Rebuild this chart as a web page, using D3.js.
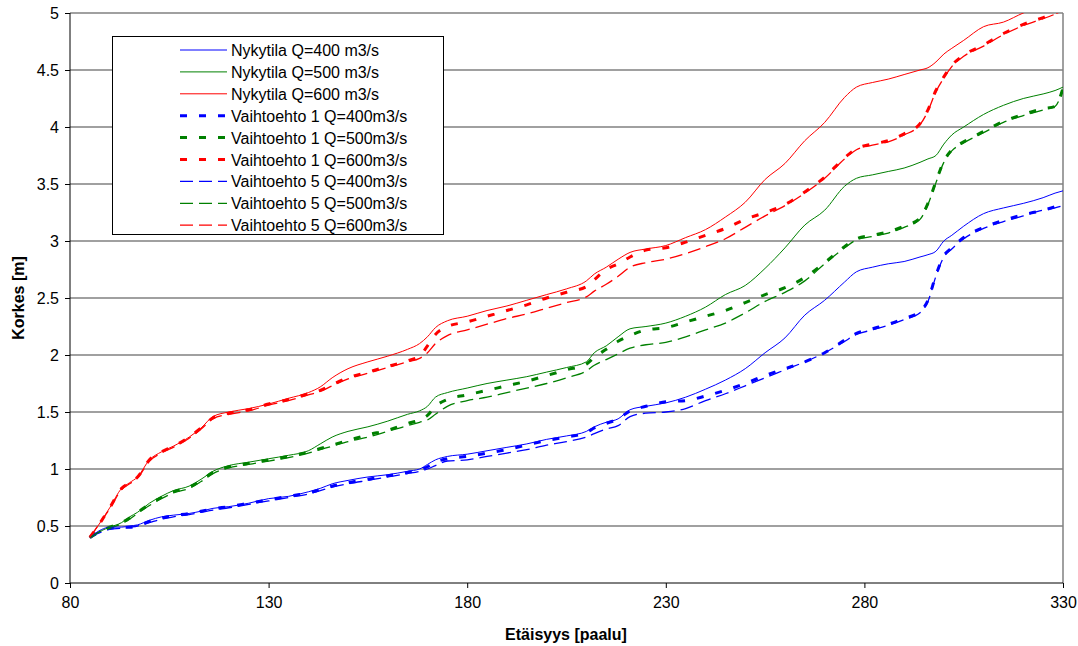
<!DOCTYPE html>
<html>
<head>
<meta charset="utf-8">
<script src="https://d3js.org/d3.v7.min.js"></script>
<style>
body { margin: 0; background: white; }
svg text { font-family: "Liberation Sans", Arial, sans-serif; fill: #000; }
.axis path, .axis line { stroke: #000; }
.grid line { stroke: #808080; stroke-width: 1.5; }
</style>
</head>
<body>
<svg id="chart" width="1078" height="646"></svg>
<script>
// distance (paalu) shared by all series
var paalu = [85,88,90,93,95,97,100,103,106,110,113,116,120,125,130,135,140,143,146,150,155,160,165,168,170,172,175,180,185,190,195,200,205,210,212,215,218,221,225,230,235,240,245,250,255,260,265,270,275,278,282,286,290,294,296,298,300,302,305,310,315,320,325,328,330];

var nyk400 = [0.40,0.47,0.49,0.49,0.50,0.51,0.55,0.58,0.595,0.61,0.63,0.655,0.67,0.70,0.74,0.76,0.80,0.83,0.87,0.90,0.93,0.95,0.98,1.00,1.04,1.08,1.11,1.13,1.16,1.19,1.22,1.26,1.29,1.33,1.37,1.41,1.44,1.52,1.55,1.58,1.63,1.70,1.78,1.88,2.02,2.15,2.35,2.48,2.64,2.73,2.77,2.80,2.82,2.86,2.88,2.91,3.00,3.05,3.13,3.24,3.29,3.33,3.38,3.42,3.44];
var nyk500 = [0.40,0.46,0.49,0.53,0.58,0.62,0.70,0.76,0.81,0.85,0.91,0.98,1.03,1.06,1.09,1.12,1.16,1.22,1.28,1.33,1.37,1.42,1.48,1.51,1.55,1.63,1.67,1.71,1.75,1.78,1.81,1.85,1.89,1.94,2.02,2.08,2.16,2.23,2.25,2.28,2.34,2.42,2.53,2.61,2.76,2.94,3.14,3.27,3.48,3.55,3.58,3.61,3.64,3.69,3.72,3.75,3.85,3.93,4.00,4.11,4.19,4.25,4.29,4.32,4.35];
var nyk600 = [0.40,0.55,0.66,0.83,0.88,0.93,1.08,1.15,1.20,1.28,1.36,1.46,1.50,1.53,1.57,1.62,1.67,1.72,1.80,1.88,1.94,1.99,2.05,2.10,2.16,2.24,2.30,2.34,2.39,2.43,2.48,2.53,2.58,2.65,2.71,2.77,2.84,2.90,2.93,2.96,3.03,3.10,3.21,3.34,3.54,3.68,3.88,4.04,4.26,4.35,4.39,4.42,4.46,4.50,4.52,4.57,4.64,4.69,4.76,4.88,4.92,5.00,5.06,5.09,5.12];

var v1_400 = [0.40,0.46,0.48,0.49,0.49,0.50,0.54,0.57,0.59,0.61,0.63,0.65,0.67,0.70,0.73,0.76,0.79,0.82,0.85,0.88,0.91,0.94,0.97,0.99,1.02,1.06,1.09,1.11,1.14,1.17,1.21,1.25,1.28,1.32,1.36,1.40,1.44,1.51,1.55,1.59,1.60,1.64,1.69,1.75,1.82,1.88,1.94,2.02,2.13,2.19,2.23,2.27,2.32,2.38,2.48,2.70,2.87,2.94,3.03,3.12,3.18,3.23,3.27,3.30,3.32];
var v1_500 = [0.40,0.46,0.49,0.53,0.57,0.62,0.69,0.75,0.80,0.84,0.90,0.97,1.02,1.05,1.08,1.11,1.15,1.18,1.21,1.25,1.30,1.34,1.40,1.43,1.47,1.55,1.61,1.65,1.69,1.73,1.77,1.82,1.87,1.92,1.98,2.05,2.12,2.17,2.22,2.24,2.29,2.34,2.39,2.46,2.53,2.59,2.68,2.81,2.95,3.02,3.05,3.08,3.13,3.20,3.33,3.52,3.70,3.80,3.87,3.96,4.05,4.11,4.16,4.18,4.34];
var v1_600 = [0.40,0.55,0.66,0.83,0.88,0.93,1.08,1.15,1.20,1.28,1.36,1.45,1.49,1.52,1.57,1.61,1.66,1.69,1.74,1.80,1.85,1.90,1.95,1.99,2.08,2.18,2.25,2.29,2.34,2.39,2.44,2.50,2.55,2.60,2.66,2.75,2.80,2.86,2.92,2.94,2.99,3.05,3.11,3.19,3.25,3.32,3.43,3.56,3.73,3.81,3.85,3.88,3.94,4.03,4.15,4.32,4.44,4.54,4.63,4.72,4.82,4.90,4.96,5.00,5.03];

var v5_400 = [0.40,0.45,0.47,0.48,0.49,0.50,0.53,0.56,0.58,0.60,0.62,0.64,0.66,0.69,0.72,0.75,0.78,0.81,0.84,0.87,0.90,0.93,0.96,0.98,1.00,1.03,1.07,1.08,1.11,1.14,1.17,1.21,1.24,1.28,1.31,1.35,1.38,1.46,1.49,1.50,1.53,1.60,1.66,1.73,1.80,1.87,1.94,2.02,2.12,2.18,2.22,2.26,2.31,2.37,2.47,2.69,2.86,2.93,3.02,3.11,3.17,3.22,3.27,3.29,3.31];
var v5_500 = [0.40,0.46,0.48,0.52,0.56,0.61,0.68,0.74,0.79,0.83,0.89,0.96,1.01,1.04,1.07,1.10,1.14,1.17,1.20,1.24,1.28,1.33,1.38,1.41,1.43,1.48,1.55,1.60,1.63,1.67,1.71,1.75,1.80,1.86,1.91,1.96,2.01,2.06,2.09,2.11,2.16,2.22,2.28,2.37,2.47,2.55,2.65,2.80,2.94,3.01,3.04,3.07,3.12,3.19,3.32,3.51,3.69,3.79,3.86,3.95,4.04,4.10,4.15,4.18,4.33];
var v5_600 = [0.40,0.55,0.65,0.82,0.87,0.92,1.07,1.14,1.19,1.27,1.35,1.44,1.48,1.51,1.56,1.60,1.65,1.68,1.73,1.79,1.84,1.89,1.94,1.97,2.02,2.10,2.17,2.22,2.27,2.32,2.36,2.41,2.46,2.51,2.56,2.62,2.69,2.77,2.81,2.84,2.89,2.95,3.02,3.12,3.22,3.31,3.42,3.55,3.72,3.80,3.84,3.87,3.93,4.02,4.14,4.31,4.43,4.53,4.62,4.71,4.81,4.89,4.95,4.99,5.02];

var xTicks = [80,130,180,230,280,330];
var yTicks = [0,0.5,1,1.5,2,2.5,3,3.5,4,4.5,5];

var series = [
  {name: "Nykytila Q=400 m3/s", values: nyk400, color: "#0000ff", style: "solid"},
  {name: "Nykytila Q=500 m3/s", values: nyk500, color: "#008000", style: "solid"},
  {name: "Nykytila Q=600 m3/s", values: nyk600, color: "#ff0000", style: "solid"},
  {name: "Vaihtoehto 1 Q=400m3/s", values: v1_400, color: "#0000ff", style: "dot"},
  {name: "Vaihtoehto 1 Q=500m3/s", values: v1_500, color: "#008000", style: "dot"},
  {name: "Vaihtoehto 1 Q=600m3/s", values: v1_600, color: "#ff0000", style: "dot"},
  {name: "Vaihtoehto 5 Q=400m3/s", values: v5_400, color: "#0000ff", style: "dash"},
  {name: "Vaihtoehto 5 Q=500m3/s", values: v5_500, color: "#008000", style: "dash"},
  {name: "Vaihtoehto 5 Q=600m3/s", values: v5_600, color: "#ff0000", style: "dash"}
];

var styles = {
  solid: {w: 1, dash: null},
  dot: {w: 3, dash: "7,12"},
  dash: {w: 1.3, dash: "13,6"}
};

var mL = 70, mR = 1063, mT = 13, mB = 583;
var svg = d3.select("#chart");

var x = d3.scaleLinear().domain([80,330]).range([mL,mR]);
var y = d3.scaleLinear().domain([0,5]).range([mB,mT]);

// gridlines
svg.append("g").attr("class","grid")
  .selectAll("line").data(yTicks.slice(1)).enter().append("line")
  .attr("x1", mL).attr("x2", mR)
  .attr("y1", function(d){return y(d)}).attr("y2", function(d){return y(d)});
svg.append("line").attr("x1", mR).attr("x2", mR).attr("y1", mT).attr("y2", mB)
  .attr("stroke", "#808080").attr("stroke-width", 1.5);

svg.append("clipPath").attr("id","clip").append("rect")
  .attr("x", mL).attr("y", mT).attr("width", mR-mL).attr("height", mB-mT);

var line = d3.line()
  .x(function(d,i){return x(paalu[i])})
  .y(function(d){return y(d)})
  .curve(d3.curveMonotoneX);

var plot = svg.append("g").attr("clip-path","url(#clip)");
// draw dashed scenarios first, current state on top
[3,4,5,6,7,8,0,1,2].forEach(function(k){
  var s = series[k];
  plot.append("path")
    .attr("d", line(s.values))
    .attr("fill","none")
    .attr("stroke", s.color)
    .attr("stroke-width", styles[s.style].w)
    .attr("stroke-dasharray", styles[s.style].dash);
});

// axes
svg.append("g").attr("class","axis")
  .attr("transform","translate(0," + mB + ")")
  .call(d3.axisBottom(x).tickValues(xTicks).tickSize(5).tickPadding(9).tickFormat(d3.format("d")))
  .call(function(g){ g.select(".domain").attr("d", "M" + mL + ",0H" + mR); })
  .selectAll("text").style("font-size","16px");

svg.append("g").attr("class","axis")
  .attr("transform","translate(" + mL + ",0)")
  .call(d3.axisLeft(y).tickValues(yTicks).tickSize(5).tickPadding(6).tickFormat(function(d){return String(d)}))
  .call(function(g){ g.select(".domain").attr("d", "M0," + mT + "V" + mB); })
  .selectAll("text").style("font-size","16px");

svg.append("text")
  .attr("x", 566).attr("y", 640)
  .attr("text-anchor","middle")
  .style("font-size","16px").style("font-weight","bold")
  .text("Etäisyys [paalu]");

svg.append("text")
  .attr("transform","translate(24,298) rotate(-90)")
  .attr("text-anchor","middle")
  .style("font-size","16px").style("font-weight","bold")
  .text("Korkes [m]");

// legend
var lg = svg.append("g");
lg.append("rect").attr("x",112.5).attr("y",36.5).attr("width",331).attr("height",198)
  .attr("fill","white").attr("stroke","#000").attr("stroke-width",1);
series.forEach(function(s,i){
  var cy = 50 + i*21.9;
  lg.append("line").attr("x1",180).attr("x2",227).attr("y1",cy).attr("y2",cy)
    .attr("stroke", s.color)
    .attr("stroke-width", styles[s.style].w)
    .attr("stroke-dasharray", styles[s.style].dash);
  lg.append("text").attr("x",231).attr("y",cy+6)
    .style("font-size","16px").text(s.name);
});
</script>
</body>
</html>
